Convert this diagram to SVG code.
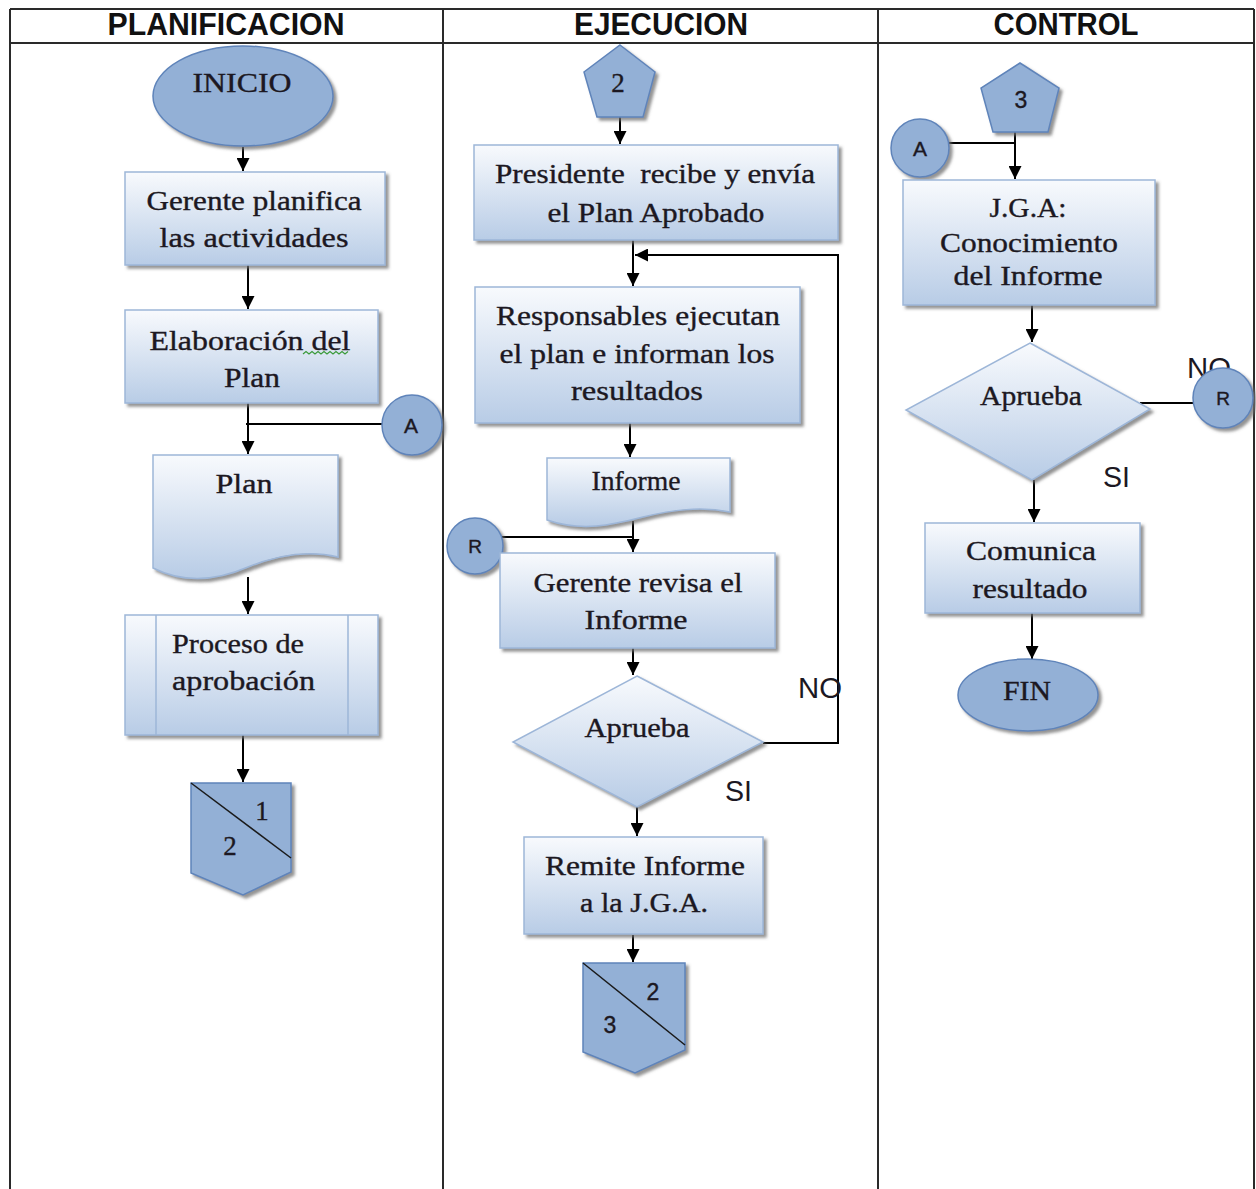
<svg xmlns="http://www.w3.org/2000/svg" width="1256" height="1189" viewBox="0 0 1256 1189">
  <style>
    .grid { stroke: #2a2a2a; stroke-width: 2; fill: none; }
    .head { font-family: "Liberation Sans", Arial, sans-serif; font-size: 31px; font-weight: bold; fill: #111; text-anchor: middle; }
    .box { fill: url(#boxFill); stroke: #9db6d8; stroke-width: 1.5; filter: url(#shadow); }
    .solid { fill: #93b0d6; stroke: #5f84ba; stroke-width: 1.5; filter: url(#shadow); }
    .t { font-family: "Liberation Serif", "Times New Roman", serif; font-size: 27px; fill: #1c1822; stroke: #1c1822; stroke-width: 0.35; text-anchor: middle; }
    .ts { font-family: "Liberation Sans", Arial, sans-serif; fill: #1c1822; stroke: #1c1822; stroke-width: 0.4; text-anchor: middle; }
    .lbl { font-family: "Liberation Sans", Arial, sans-serif; font-size: 29px; fill: #1c1822; }
    .edge { stroke: #000; stroke-width: 2; fill: none; }
    .arrow { marker-end: url(#head); }
    .inner { stroke: #9db6d8; stroke-width: 1.5; }
  </style>
  <defs>
    <linearGradient id="boxFill" x1="0" y1="0" x2="0" y2="1">
      <stop offset="0" stop-color="#f8fafd"/>
      <stop offset="1" stop-color="#b8cce6"/>
    </linearGradient>
    <filter id="shadow" x="-10%" y="-10%" width="125%" height="130%">
      <feGaussianBlur in="SourceAlpha" stdDeviation="1.5"/>
      <feOffset dx="3" dy="3" result="off"/>
      <feFlood flood-color="#707070" flood-opacity="0.75"/>
      <feComposite in2="off" operator="in"/>
      <feMerge>
        <feMergeNode/>
        <feMergeNode in="SourceGraphic"/>
      </feMerge>
    </filter>
    <marker id="head" markerWidth="13" markerHeight="13" refX="13" refY="6.5" orient="auto" markerUnits="userSpaceOnUse">
      <path d="M0,0 L13,6.5 L0,13 z" fill="#000"/>
    </marker>
  </defs>

  <rect width="1256" height="1189" fill="#fff"/>

  <!-- swimlane table -->
  <g id="lanes">
    <path class="grid" d="M10,9 H1254 M10,43 H1254 M10,9 V1189 M443,9 V1189 M878,9 V1189 M1254,9 V1189"/>
    <text class="head" x="226" y="35" textLength="237" lengthAdjust="spacingAndGlyphs">PLANIFICACION</text>
    <text class="head" x="661" y="35" textLength="174" lengthAdjust="spacingAndGlyphs">EJECUCION</text>
    <text class="head" x="1066" y="35" textLength="145" lengthAdjust="spacingAndGlyphs">CONTROL</text>
  </g>

  <!-- connectors and branch labels -->
  <g id="connectors">
    <path class="edge arrow" d="M243,147 V171"/>
    <path class="edge arrow" d="M248,265 V309"/>
    <path class="edge arrow" d="M248,403 V454"/>
    <path class="edge" d="M383,424 H246"/>
    <path class="edge arrow" d="M248,577 V614"/>
    <path class="edge arrow" d="M243,735 V782"/>
    <path class="edge arrow" d="M620,117 V144"/>
    <path class="edge arrow" d="M633,240 V286"/>
    <path class="edge arrow" d="M763,743 H838 V255 H635"/>
    <path class="edge arrow" d="M630,423 V457"/>
    <path class="edge arrow" d="M633,521 V552"/>
    <path class="edge" d="M502,537 H633"/>
    <path class="edge arrow" d="M633,648 V675"/>
    <path class="edge arrow" d="M637,807 V836"/>
    <path class="edge arrow" d="M633,935 V962"/>
    <path class="edge arrow" d="M1015,132 V179"/>
    <path class="edge" d="M948,143 H1015"/>
    <path class="edge arrow" d="M1032,305 V342"/>
    <path class="edge" d="M1140,403 H1196"/>
    <path class="edge arrow" d="M1034,480 V522"/>
    <path class="edge arrow" d="M1032,613 V659"/>
    <text class="lbl" x="798" y="698" textLength="44" lengthAdjust="spacingAndGlyphs">NO</text>
    <text class="lbl" x="725" y="801" textLength="27" lengthAdjust="spacingAndGlyphs">SI</text>
    <text class="lbl" x="1187" y="378" textLength="44" lengthAdjust="spacingAndGlyphs">NO</text>
    <text class="lbl" x="1103" y="487" textLength="27" lengthAdjust="spacingAndGlyphs">SI</text>
  </g>

  <!-- PLANIFICACION lane -->
  <g id="inicio">
    <ellipse class="solid" cx="243" cy="96" rx="90" ry="50"/>
    <text class="t" x="242" y="92" textLength="99" lengthAdjust="spacingAndGlyphs">INICIO</text>
  </g>
  <g id="planifica">
    <rect class="box" x="125" y="172" width="260" height="93"/>
    <text class="t" x="254" y="210" textLength="215" lengthAdjust="spacingAndGlyphs">Gerente planifica</text>
    <text class="t" x="254" y="247" textLength="189" lengthAdjust="spacingAndGlyphs">las actividades</text>
  </g>
  <g id="elaboracion">
    <rect class="box" x="125" y="310" width="253" height="93"/>
    <text class="t" x="250" y="350" textLength="201" lengthAdjust="spacingAndGlyphs">Elaboración del</text>
    <text class="t" x="252" y="387" textLength="56" lengthAdjust="spacingAndGlyphs">Plan</text>
    <path d="M303,354 l3,-2.5 l3,2.5 l3,-2.5 l3,2.5 l3,-2.5 l3,2.5 l3,-2.5 l3,2.5 l3,-2.5 l3,2.5 l3,-2.5 l3,2.5 l3,-2.5 l3,2.5 l3,-2.5" fill="none" stroke="#3a9a3a" stroke-width="1.2"/>
  </g>
  <g id="conector-a-plan">
    <circle class="solid" cx="412" cy="425" r="30"/>
    <text class="ts" x="411" y="433" font-size="21">A</text>
  </g>
  <g id="plan-doc">
    <path class="box" d="M153,455 H338 V557 C305,549 275,556 248,567 C218,580 185,584 153,568 Z"/>
    <text class="t" x="244" y="493" textLength="57" lengthAdjust="spacingAndGlyphs">Plan</text>
  </g>
  <g id="aprobacion">
    <rect class="box" x="125" y="615" width="253" height="120"/>
    <path class="inner" d="M156,615 V735 M348,615 V735"/>
    <text class="t" x="172" y="653" textLength="132" lengthAdjust="spacingAndGlyphs" style="text-anchor:start">Proceso de</text>
    <text class="t" x="172" y="690" textLength="143" lengthAdjust="spacingAndGlyphs" style="text-anchor:start">aprobación</text>
  </g>
  <g id="salida-1-2">
    <polygon class="solid" points="191,783 291,783 291,872 243,895 191,873"/>
    <path d="M191,783 L291,858" stroke="#1a1a1a" stroke-width="1.5"/>
    <text class="t" x="262" y="820" font-size="24">1</text>
    <text class="t" x="230" y="855" font-size="24">2</text>
  </g>

  <!-- EJECUCION lane -->
  <g id="entrada-2">
    <polygon class="solid" points="620,45 655,72 643,117 597,117 584,72"/>
    <text class="t" x="618" y="92" font-size="23">2</text>
  </g>
  <g id="presidente">
    <rect class="box" x="474" y="145" width="364" height="95"/>
    <text class="t" x="655" y="183" textLength="320" lengthAdjust="spacingAndGlyphs" xml:space="preserve">Presidente  recibe y envía</text>
    <text class="t" x="656" y="222" textLength="217" lengthAdjust="spacingAndGlyphs">el Plan Aprobado</text>
  </g>
  <g id="responsables">
    <rect class="box" x="475" y="287" width="325" height="136"/>
    <text class="t" x="638" y="325" textLength="284" lengthAdjust="spacingAndGlyphs">Responsables ejecutan</text>
    <text class="t" x="637" y="363" textLength="275" lengthAdjust="spacingAndGlyphs">el plan e informan los</text>
    <text class="t" x="637" y="400" textLength="132" lengthAdjust="spacingAndGlyphs">resultados</text>
  </g>
  <g id="informe-doc">
    <path class="box" d="M547,458 H730 V512 C700,506 672,510 643,517 C612,525 582,532 547,520 Z"/>
    <text class="t" x="636" y="490" textLength="89" lengthAdjust="spacingAndGlyphs">Informe</text>
  </g>
  <g id="conector-r-ejec">
    <circle class="solid" cx="475" cy="546" r="28"/>
    <text class="ts" x="475" y="553" font-size="19">R</text>
  </g>
  <g id="revisa">
    <rect class="box" x="500" y="553" width="275" height="95"/>
    <text class="t" x="638" y="592" textLength="209" lengthAdjust="spacingAndGlyphs">Gerente revisa el</text>
    <text class="t" x="636" y="629" textLength="103" lengthAdjust="spacingAndGlyphs">Informe</text>
  </g>
  <g id="aprueba-ejec">
    <polygon class="box" points="637,676 763,742 637,807 513,742"/>
    <text class="t" x="637" y="737" textLength="105" lengthAdjust="spacingAndGlyphs">Aprueba</text>
  </g>
  <g id="remite">
    <rect class="box" x="524" y="837" width="239" height="97"/>
    <text class="t" x="645" y="875" textLength="200" lengthAdjust="spacingAndGlyphs">Remite Informe</text>
    <text class="t" x="644" y="912" textLength="128" lengthAdjust="spacingAndGlyphs">a la J.G.A.</text>
  </g>
  <g id="salida-2-3">
    <polygon class="solid" points="583,963 685,963 685,1050 635,1073 583,1052"/>
    <path d="M583,963 L685,1045" stroke="#1a1a1a" stroke-width="1.5"/>
    <text class="ts" x="653" y="1000" font-size="23">2</text>
    <text class="ts" x="610" y="1033" font-size="23">3</text>
  </g>

  <!-- CONTROL lane -->
  <g id="entrada-3">
    <polygon class="solid" points="1020,63 1059,88 1048,132 993,132 981,88"/>
    <text class="ts" x="1021" y="108" font-size="23">3</text>
  </g>
  <g id="conector-a-ctrl">
    <circle class="solid" cx="920" cy="148" r="29"/>
    <text class="ts" x="920" y="156" font-size="21">A</text>
  </g>
  <g id="jga">
    <rect class="box" x="903" y="180" width="252" height="125"/>
    <text class="t" x="1028" y="217" textLength="77" lengthAdjust="spacingAndGlyphs">J.G.A:</text>
    <text class="t" x="1029" y="252" textLength="178" lengthAdjust="spacingAndGlyphs">Conocimiento</text>
    <text class="t" x="1028" y="285" textLength="149" lengthAdjust="spacingAndGlyphs">del Informe</text>
  </g>
  <g id="aprueba-ctrl">
    <polygon class="box" points="1030,343 1150,409 1032,480 906,410"/>
    <text class="t" x="1031" y="405" textLength="102" lengthAdjust="spacingAndGlyphs">Aprueba</text>
  </g>
  <g id="conector-r-ctrl">
    <circle class="solid" cx="1223" cy="398" r="30"/>
    <text class="ts" x="1223" y="405" font-size="19">R</text>
  </g>
  <g id="comunica">
    <rect class="box" x="925" y="523" width="215" height="90"/>
    <text class="t" x="1031" y="560" textLength="130" lengthAdjust="spacingAndGlyphs">Comunica</text>
    <text class="t" x="1030" y="598" textLength="115" lengthAdjust="spacingAndGlyphs">resultado</text>
  </g>
  <g id="fin">
    <ellipse class="solid" cx="1028" cy="695" rx="70" ry="36"/>
    <text class="t" x="1027" y="700" textLength="48" lengthAdjust="spacingAndGlyphs">FIN</text>
  </g>
</svg>
